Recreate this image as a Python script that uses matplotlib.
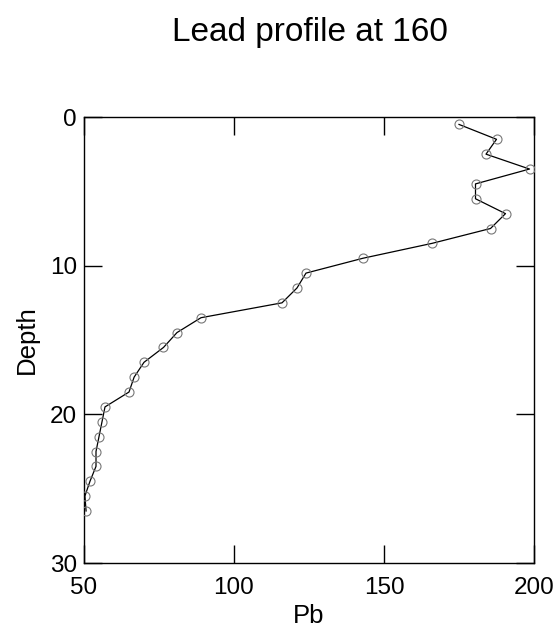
import matplotlib
matplotlib.use("Agg")
import matplotlib.pyplot as plt

depth = [0.5, 1.5, 2.5, 3.5, 4.5, 5.5, 6.5, 7.5, 8.5, 9.5, 10.5, 11.5, 12.5, 13.5,
         14.5, 15.5, 16.5, 17.5, 18.5, 19.5, 20.5, 21.5, 22.5, 23.5, 24.5, 25.5, 26.5]
pb = [175, 187.5, 184, 198.5, 180.5, 180.5, 190.5, 185.5, 166, 143, 124, 121, 116, 89,
      81, 76.5, 70, 66.7, 65, 57, 56, 55, 54, 54, 52, 50.3, 50.7]

plt.rcParams['font.family'] = ['Liberation Sans', 'DejaVu Sans']

fig = plt.figure(figsize=(5.57, 6.29), dpi=100)
ax = fig.add_axes([84/557, 1-563/629, 450/557, 446/629])
ax.plot(pb, depth, color='black', lw=0.9, zorder=2)
ax.plot(pb, depth, 'o', mfc='none', mec='#777777', ms=6.5, mew=0.8, zorder=3)
ax.set_xlim(50, 200)
ax.set_ylim(30, 0)
ax.set_xticks([50, 100, 150, 200])
ax.set_yticks([0, 10, 20, 30])
ax.tick_params(direction='in', length=13, width=1, top=True, right=True, labelsize=17.5)
ax.tick_params(axis='x', pad=10)
ax.tick_params(axis='y', pad=5)
for s in ax.spines.values():
    s.set_linewidth(1)
ax.set_xlabel('Pb', fontsize=18.5, labelpad=4)
ax.set_ylabel('Depth', fontsize=18.5, labelpad=8)
fig.text(310/557, 1-41/629, 'Lead profile at 160', ha='center', va='baseline', fontsize=24)
fig.savefig('out.png', dpi=100)
